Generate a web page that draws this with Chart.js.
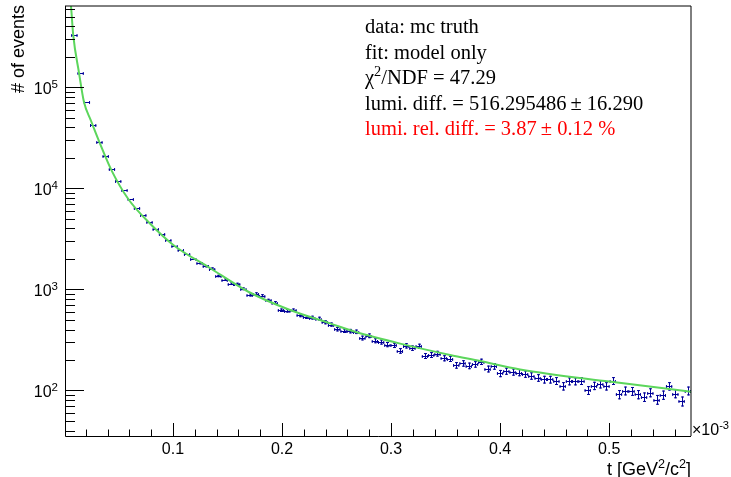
<!DOCTYPE html>
<html>
<head>
<meta charset="utf-8">
<script src="https://cdn.jsdelivr.net/npm/chart.js"></script>
<style>
  html, body { margin: 0; padding: 0; background: #fff; }
  canvas { display: block; }
</style>
</head>
<body>
<canvas id="chart" width="731" height="477"></canvas>
<script>
// ==================== DATA ====================
// histogram of t, in units of 1e-3 GeV^2/c^2
const T_MIN = 0.001;
const T_MAX = 0.575;
const N_BINS = 100;

// events per bin (first bin is above the frame)
const counts = [
  950000, 332000, 140000, 71500, 42600, 28900, 20900, 15500, 11900, 9620,
  7840, 6410, 5480, 4640, 3980, 3490, 3055, 2700, 2466, 2212,
  1995, 1809, 1690, 1607, 1355, 1245, 1136, 1128, 1012, 879,
  904, 865, 778, 737, 621, 613, 621, 553, 532, 525,
  513, 472, 448, 403, 389, 386, 380, 330, 347, 310,
  301, 284, 279, 246, 276, 262, 273, 219, 224, 231,
  208, 205, 177, 185, 175, 181, 192, 163, 173, 147,
  155, 152, 150, 145, 139, 133, 128, 128, 124, 110,
  123, 123, 124, 100, 111, 115, 110, 124, 91, 99,
  98, 91, 86, 95, 81, 90, 110, 93, 78, 99
];

// fit curve (model only), sampled off the plot
const fitT = [0.0050, 0.0065, 0.0085, 0.0138, 0.0184, 0.0245, 0.0330, 0.0440, 0.0590, 0.0789,
              0.1003, 0.1339, 0.1691, 0.2073, 0.2440, 0.2670, 0.3083, 0.3541, 0.3817, 0.4183,
              0.5000, 0.5750];
const fitVal = [920000, 638000, 332000, 140000, 71400, 47500, 27900, 14800, 7840, 4480,
                2750, 1626, 946, 624, 460, 380, 290, 224, 195, 161,
                122, 97];

const xMajor = [0.1, 0.2, 0.3, 0.4, 0.5];
const xLabels = ['0.1', '0.2', '0.3', '0.4', '0.5'];
const yDecades = [100, 1000, 10000, 100000];
const yExponents = ['2', '3', '4', '5'];

const Y_MIN = 35.3;
const Y_MAX = 638000;

const infoLines = [
  { parts: [['data: mc truth', 0]], color: '#000' },
  { parts: [['fit: model only', 0]], color: '#000' },
  { parts: [['\u03c7', 0], ['2', 1], ['/NDF = 47.29', 0]], color: '#000' },
  { parts: [['lumi. diff. = 516.295486\u2009\u00b1 16.290', 0]], color: '#000' },
  { parts: [['lumi. rel. diff. = 3.87\u2009\u00b1 0.12 %', 0]], color: '#ff0000' }
];

// ==================== HELPERS ====================
const binW = (T_MAX - T_MIN) / N_BINS;
const binCenters = counts.map((_, i) => T_MIN + binW * (i + 0.5));

const SANS = '"Liberation Sans", Arial, sans-serif';
const SERIF = '"Liberation Serif", "Times New Roman", serif';

// text with superscripts: parts = [[text, isSup], ...]
function drawParts(ctx, parts, x, y, size, family, color, align, supScale, raise) {
  const supSize = size * supScale;
  const widths = parts.map(([t, sup]) => {
    ctx.font = (sup ? supSize : size) + 'px ' + family;
    return ctx.measureText(t).width;
  });
  const total = widths.reduce((s, w) => s + w, 0);
  let cx = x;
  if (align === 'right') cx = x - total;
  if (align === 'center') cx = x - total / 2;
  ctx.fillStyle = color;
  ctx.textAlign = 'left';
  ctx.textBaseline = 'alphabetic';
  parts.forEach(([t, sup], i) => {
    ctx.font = (sup ? supSize : size) + 'px ' + family;
    ctx.fillText(t, cx, sup ? y - raise : y);
    cx += widths[i];
  });
}

// ==================== PLUGIN ====================
const rootLook = {
  id: 'rootLook',
  beforeDatasetsDraw(chart) {
    const { ctx, chartArea: a, scales: { x, y } } = chart;
    ctx.save();
    ctx.beginPath();
    ctx.rect(a.left, a.top, a.right - a.left, a.bottom - a.top);
    ctx.clip();
    ctx.strokeStyle = '#000099';
    ctx.lineWidth = 1;
    ctx.beginPath();
    counts.forEach((n, i) => {
      const c = binCenters[i];
      const px = Math.round(x.getPixelForValue(c)) + 0.5;
      const x0 = x.getPixelForValue(c - binW / 2);
      const x1 = x.getPixelForValue(c + binW / 2);
      const py = Math.round(y.getPixelForValue(n)) + 0.5;
      const e = Math.sqrt(n);
      const y0 = y.getPixelForValue(n + e);
      const y1 = y.getPixelForValue(n - e);
      ctx.moveTo(x0, py); ctx.lineTo(x1, py);
      ctx.moveTo(x0 + 0.5, py - 1.5); ctx.lineTo(x0 + 0.5, py + 1.5);
      ctx.moveTo(x1 - 0.5, py - 1.5); ctx.lineTo(x1 - 0.5, py + 1.5);
      if (y1 - y0 > 2) {
        ctx.moveTo(px, y0); ctx.lineTo(px, y1);
        ctx.moveTo(px - 1.5, y0 + 0.5); ctx.lineTo(px + 1.5, y0 + 0.5);
        ctx.moveTo(px - 1.5, y1 - 0.5); ctx.lineTo(px + 1.5, y1 - 0.5);
      }
    });
    ctx.stroke();
    ctx.restore();
  },
  afterDraw(chart) {
    const { ctx, chartArea: a, scales: { x, y } } = chart;
    ctx.save();

    // frame: top and right plain, axes black
    ctx.lineWidth = 1;
    ctx.strokeStyle = '#000';
    ctx.beginPath();
    ctx.moveTo(a.left, a.top); ctx.lineTo(a.right, a.top); ctx.lineTo(a.right, a.bottom);
    ctx.stroke();
    ctx.beginPath();
    ctx.moveTo(a.left + 0.5, a.top); ctx.lineTo(a.left + 0.5, a.bottom + 0.5);
    ctx.lineTo(a.right, a.bottom + 0.5);
    ctx.stroke();

    // x ticks (inward)
    ctx.beginPath();
    for (let t = 0.02; t < T_MAX; t += 0.02) {
      const px = Math.round(x.getPixelForValue(t)) + 0.5;
      const major = Math.abs(t * 10 - Math.round(t * 10)) < 1e-6;
      ctx.moveTo(px, a.bottom);
      ctx.lineTo(px, a.bottom - (major ? 13 : 6.5));
    }
    // y ticks (inward), log scale
    for (let d = 10; d <= 1e6; d *= 10) {
      for (let m = 1; m <= 9; m++) {
        const v = m * d;
        if (v < Y_MIN || v > Y_MAX) continue;
        const py = Math.round(y.getPixelForValue(v)) + 0.5;
        ctx.moveTo(a.left, py);
        ctx.lineTo(a.left + (m === 1 ? 19 : 10), py);
      }
    }
    ctx.stroke();

    // x tick labels
    ctx.fillStyle = '#000';
    ctx.font = '16px ' + SANS;
    ctx.textAlign = 'center';
    ctx.textBaseline = 'alphabetic';
    xMajor.forEach((t, i) => {
      ctx.fillText(xLabels[i], x.getPixelForValue(t), 453.5);
    });
    drawParts(ctx, [['\u00d710', 0], ['-3', 1]], a.right + 1, 435, 16, SANS, '#000', 'left', 0.7, 6);

    // y tick labels 10^n
    yDecades.forEach((v, i) => {
      const py = y.getPixelForValue(v);
      drawParts(ctx, [['10', 0], [yExponents[i], 1]], 58, py + 6.5, 16, SANS, '#000', 'right', 0.72, 5.5);
    });

    // axis titles
    drawParts(ctx, [['t [GeV', 0], ['2', 1], ['/c', 0], ['2', 1], [']', 0]],
      a.right, 475, 18, SANS, '#000', 'right', 0.7, 7.5);
    ctx.save();
    ctx.translate(24, 5);
    ctx.rotate(-Math.PI / 2);
    ctx.font = '18px ' + SANS;
    ctx.textAlign = 'right';
    ctx.fillStyle = '#000';
    ctx.fillText('# of events', 0, 0);
    ctx.restore();

    // fit info
    infoLines.forEach((line, i) => {
      drawParts(ctx, line.parts, 365, 33 + i * 25.5, 20.5, SERIF, line.color, 'left', 0.7, 8);
    });

    ctx.restore();
  }
};

// ==================== CHART ====================
const chart = new Chart(document.getElementById('chart').getContext('2d'), {
  type: 'scatter',
  data: {
    datasets: [
      {
        type: 'line',
        label: 'fit',
        data: fitT.map((t, i) => ({ x: t, y: fitVal[i] })),
        borderColor: '#5cd65c',
        borderWidth: 2,
        pointRadius: 0,
        fill: false,
        cubicInterpolationMode: 'monotone',
        clip: 0
      },
      {
        label: 'mc truth',
        data: binCenters.map((t, i) => ({ x: t, y: counts[i] })),
        pointRadius: 0,
        showLine: false
      }
    ]
  },
  options: {
    responsive: false,
    animation: false,
    devicePixelRatio: 1,
    layout: { padding: { left: 65, right: 40, top: 6, bottom: 41 } },
    plugins: { legend: { display: false }, tooltip: { enabled: false } },
    scales: {
      x: { type: 'linear', min: T_MIN, max: T_MAX, display: false },
      y: { type: 'logarithmic', min: Y_MIN, max: Y_MAX, display: false }
    }
  },
  plugins: [rootLook]
});
</script>
</body>
</html>
